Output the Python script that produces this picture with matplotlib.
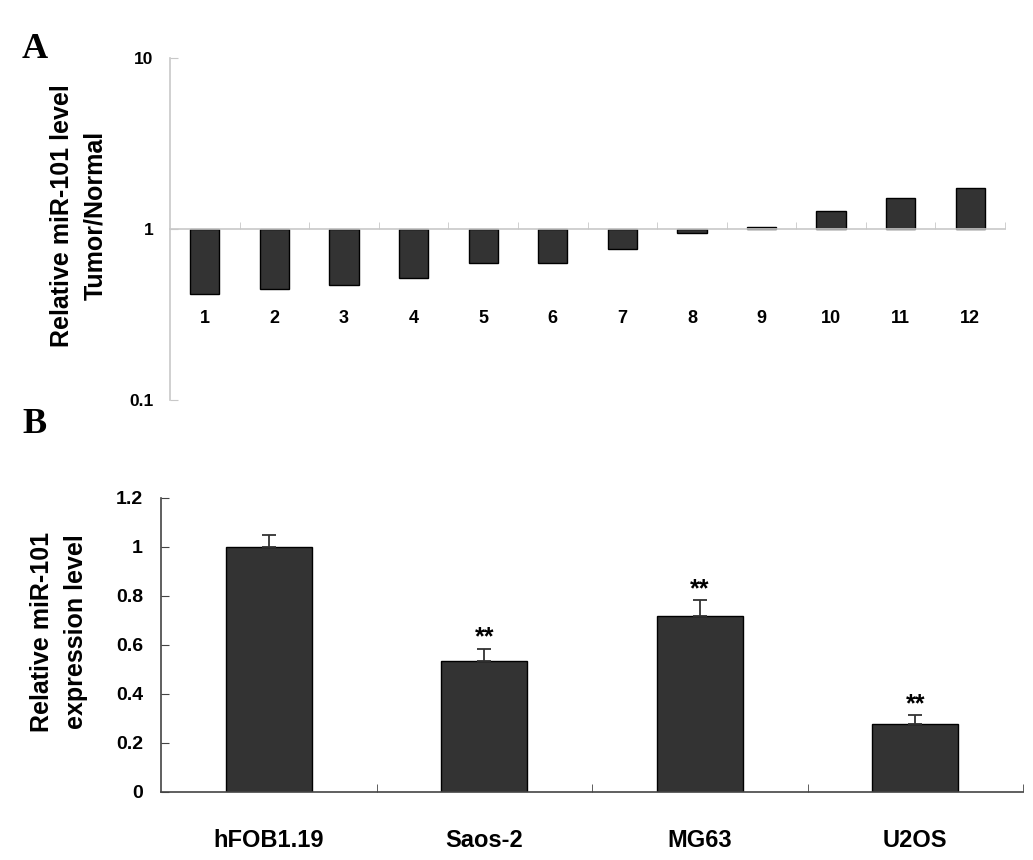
import matplotlib
matplotlib.use('Agg')
import matplotlib.pyplot as plt
import numpy as np

plt.rcParams['font.family'] = ['Liberation Sans', 'DejaVu Sans']

# Panel A: tumor/normal ratio per patient (log scale)
samples = [str(i) for i in range(1, 13)]
ratios = [0.415, 0.444, 0.469, 0.519, 0.635, 0.633, 0.767, 0.944, 1.03, 1.27, 1.52, 1.74]

# Panel B: cell lines
cell_lines = ['hFOB1.19', 'Saos-2', 'MG63', 'U2OS']
expr = [1.0, 0.535, 0.718, 0.278]
expr_err = [0.05, 0.05, 0.065, 0.035]
stars = ['', '**', '**', '**']

bar_color = '#333333'

fig = plt.figure(figsize=(10.33, 8.6), dpi=100)

# ---------- Panel A ----------
axA = fig.add_axes([0.1646, 0.5349, 0.8083, 0.3977])
xa = np.arange(1, len(samples) + 1)
heights = [r - 1 for r in ratios]
axA.bar(xa, heights, bottom=1, width=0.42, color=bar_color, edgecolor='black', linewidth=1)
axA.set_yscale('log')
axA.set_ylim(0.1, 10)
axA.set_xlim(0.5, 12.5)
axA.set_yticks([0.1, 1, 10])
axA.set_yticklabels(['0.1', '1', '10'])
axA.yaxis.set_minor_locator(matplotlib.ticker.NullLocator())
axA.spines['top'].set_visible(False)
axA.spines['right'].set_visible(False)
axA.spines['bottom'].set_position(('data', 1))
axA.spines['left'].set_color('#c8c8c8')
axA.spines['bottom'].set_color('#c8c8c8')
axA.spines['left'].set_linewidth(1.2)
axA.spines['bottom'].set_linewidth(1.2)
axA.set_xticks(xa)
axA.set_xticklabels(samples, fontsize=13, fontweight='bold')
axA.set_xticks(np.arange(1.5, 13, 1), minor=True)
axA.tick_params(axis='x', which='major', length=0, pad=58)
axA.tick_params(axis='x', which='minor', direction='in', length=5, color='#c8c8c8')
axA.tick_params(axis='y', which='major', direction='in', length=6, color='#c8c8c8', pad=12,
                labelsize=12.5)
for lab in axA.get_yticklabels():
    lab.set_fontweight('bold')

fig.text(78.5 / 1033, 1 - 215.5 / 860, 'Relative miR-101 level\nTumor/Normal', rotation=90,
         ha='center', va='center', multialignment='center', fontsize=18, fontweight='bold',
         linespacing=1.45)

# ---------- Panel B ----------
axB = fig.add_axes([0.1559, 0.0791, 0.8345, 0.3419])
xb = np.arange(len(cell_lines))
axB.bar(xb, expr, width=0.4, color=bar_color, edgecolor='black', linewidth=1)
axB.errorbar(xb, expr, yerr=[np.zeros(len(expr)), expr_err], fmt='none', ecolor='#333333',
             elinewidth=1.3, capsize=5, capthick=1.3)
for x, v, e, s in zip(xb, expr, expr_err, stars):
    if s:
        axB.annotate(s, (x, v + e), xytext=(0, 3), textcoords='offset points',
                     ha='center', va='baseline', fontsize=18, fontweight='bold')
axB.set_ylim(0, 1.2)
axB.set_xlim(-0.5, 3.5)
axB.set_yticks([0, 0.2, 0.4, 0.6, 0.8, 1.0, 1.2])
axB.set_yticklabels(['0', '0.2', '0.4', '0.6', '0.8', '1', '1.2'])
axB.spines['top'].set_visible(False)
axB.spines['right'].set_visible(False)
for sp in ['left', 'bottom']:
    axB.spines[sp].set_color('#444444')
    axB.spines[sp].set_linewidth(1.2)
axB.set_xticks(xb)
axB.set_xticklabels(cell_lines, fontsize=17, fontweight='bold')
axB.set_xticks(np.arange(0.5, 4, 1), minor=True)
axB.tick_params(axis='x', which='major', length=0, pad=27)
axB.tick_params(axis='x', which='minor', direction='in', length=6, color='#444444')
axB.tick_params(axis='y', direction='in', length=6, color='#444444', pad=13, labelsize=14)
for lab in axB.get_yticklabels():
    lab.set_fontweight('bold')

fig.text(59 / 1033, 1 - 631.5 / 860, 'Relative miR-101\nexpression level', rotation=90,
         ha='center', va='center', multialignment='center', fontsize=18, fontweight='bold',
         linespacing=1.5)

# panel letters
fig.text(22 / 1033, 1 - 58 / 860, 'A', fontsize=26, fontweight='bold',
         family='Liberation Serif', va='baseline')
fig.text(22 / 1033, 1 - 433 / 860, 'B', fontsize=26, fontweight='bold',
         family='Liberation Serif', va='baseline')

fig.savefig('out.png', dpi=100)
